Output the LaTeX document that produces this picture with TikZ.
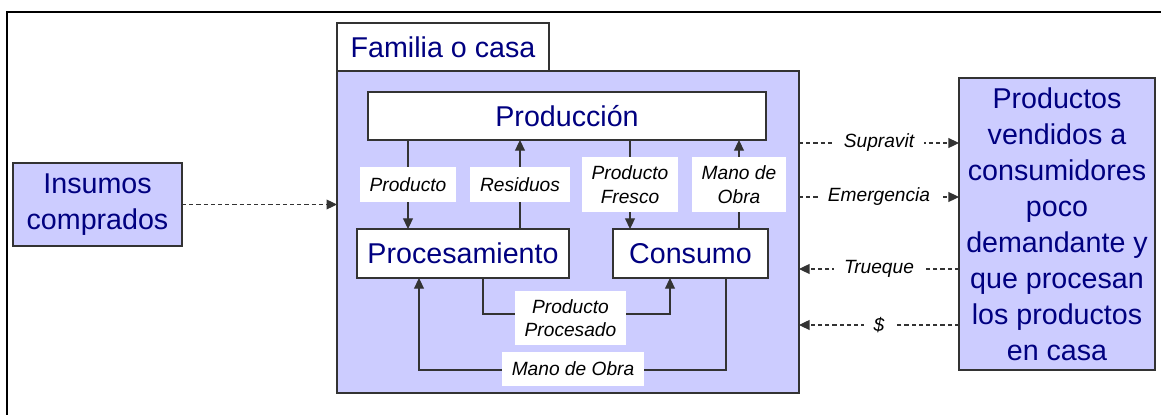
\documentclass[tikz,border=0pt]{standalone}
\usepackage{fontspec}
\setmainfont{Liberation Sans}
\newcommand*{\boxfont}{\fontsize{16.3}{20.5}\selectfont\color{N}}
\newcommand*{\tagfont}{\fontsize{10.9}{13.4}\selectfont\itshape}
\definecolor{L}{RGB}{204,204,255}
\definecolor{N}{RGB}{0,0,128}
\definecolor{E}{RGB}{51,51,51}
\usetikzlibrary{arrows.meta}
\tikzstyle{base}=[x=0.02cm, y=-0.02cm, inner sep=0pt, outer sep=0pt]
\tikzstyle{box}=[draw=E, line width=0.8pt, font=\boxfont, align=center]
\tikzstyle{tag}=[fill=white, font=\tagfont, align=center, inner xsep=5.7pt, inner ysep=4.8pt, minimum height=0.7cm]
\tikzstyle{link}=[-{Triangle[length=6pt,width=5.6pt]}, line width=0.6pt, draw=E]
\tikzstyle{dlink}=[link, dash pattern=on 2.4pt off 1.7pt]

\begin{document}
\begin{tikzpicture}[base]
    \useasboundingbox (0,0) rectangle (1161,415);
    \clip (0,0) rectangle (1161,415);
    \draw [black, line width=1.1pt] (7,12) rectangle (1200,460);
        % boxes
        \node [box, fill=L, minimum width=3.38cm, minimum height=1.66cm] (insumos) at (97.5,204.5) {Insumos\\comprados};
        \node [box, fill=L, minimum width=9.24cm, minimum height=6.44cm] (familia) at (568,232) {};
        \node [box, fill=white, minimum width=4.24cm, minimum height=0.96cm] (casa) at (443,47) {Familia o casa};
        \node [box, fill=white, minimum width=7.96cm, minimum height=0.96cm] (produccion) at (567,116) {Producción};
        \node [box, fill=white, minimum width=4.24cm, minimum height=0.98cm] (procesamiento) at (463,253.5) {Procesamiento};
        \node [box, fill=white, minimum width=3.1cm, minimum height=0.98cm] (consumo) at (690.5,253.5) {Consumo};
        \node [box, fill=L, minimum width=3.92cm, minimum height=5.84cm] (mercado) at (1057,224) {Productos\\vendidos a\\consumidores\\poco\\demandante y\\que procesan\\los productos\\en casa};
        % flows inside the house
        \draw [link] ([xshift=-1.1cm]procesamiento.north |- produccion.south) -- node [tag] {Producto} ([xshift=-1.1cm]procesamiento.north);
        \draw [link] ([xshift=1.14cm]procesamiento.north) -- node [tag] {Residuos} ([xshift=1.14cm]procesamiento.north |- produccion.south);
        \draw [link] ([xshift=-1.21cm]consumo.north |- produccion.south) -- node [tag] {Producto\\Fresco} ([xshift=-1.21cm]consumo.north);
        \draw [link] ([xshift=0.97cm]consumo.north) -- node [tag] {Mano de\\Obra} ([xshift=0.97cm]consumo.north |- produccion.south);
        \draw [link] ([xshift=0.4cm]procesamiento.south) -- ++(0,36) -| ([xshift=-0.41cm]consumo.south);
        \draw [link] ([xshift=0.71cm]consumo.south) -- ++(0,92) -| ([xshift=-0.88cm]procesamiento.south);
        \node [tag] (procesado) at (570.5,318) {Producto\\Procesado};
        \node [tag] (manoobra) at (573,369) {Mano de Obra};
        % flows to and from outside
        \draw [dlink] (insumos.east) -- (insumos.east -| familia.west);
        \draw [dlink] ([yshift=1.78cm]familia.east) -- node [tag, minimum height=0pt, inner ysep=1pt] {Supravit} ([yshift=1.78cm]familia.east -| mercado.west);
        \draw [dlink] ([yshift=0.7cm]familia.east) -- node [tag, minimum height=0pt, inner ysep=1pt] {Emergencia} ([yshift=0.7cm]familia.east -| mercado.west);
        \draw [dlink] ([yshift=-0.74cm]familia.east -| mercado.west) -- node [tag, minimum height=0pt, inner ysep=1pt] {Trueque} ([yshift=-0.74cm]familia.east);
        \draw [dlink] ([yshift=-1.86cm]familia.east -| mercado.west) -- node [tag, minimum height=0pt, inner ysep=1pt] {\$} ([yshift=-1.86cm]familia.east);
\end{tikzpicture}
\end{document}
